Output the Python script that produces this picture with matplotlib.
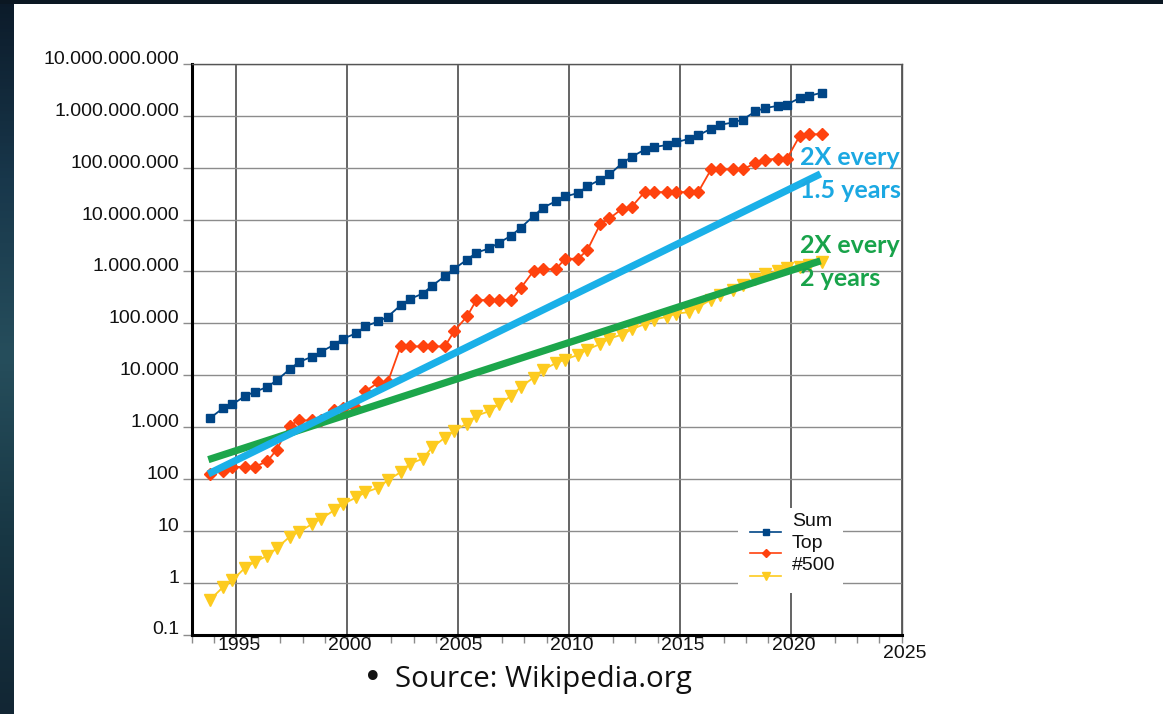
import numpy as np
import matplotlib
matplotlib.use("Agg")
import matplotlib.pyplot as plt
from matplotlib.patches import Rectangle
from matplotlib.lines import Line2D
from matplotlib.ticker import FixedLocator, NullLocator
from matplotlib.transforms import blended_transform_factory, offset_copy

# ---------------------------------------------------------------- data
# TOP500 lists, Nov 1993 .. Jun 2021 (two lists per year), performance in GFLOPS
list_dates = [(y, m) for y in range(1993, 2022) for m in (6, 11)][1:-1]

sum_perf = [1493, 2317, 2732, 3994, 4740, 5962, 7975, 12967, 17920, 22663,
            28350, 38442, 50644, 64306, 88050, 108500, 134200, 221600, 293300, 375000,
            528000, 812000, 1127000, 1690000, 2300000, 2790000, 3540000, 4920000, 6970000, 11700000,
            16950000, 22600000, 27950000, 32400000, 43700000, 58900000, 74200000, 123400000, 162000000, 223000000,
            250000000, 274000000, 309000000, 361000000, 420000000, 566000000, 672000000, 749000000, 845000000, 1220000000,
            1410000000, 1560000000, 1650000000, 2220000000, 2430000000, 2800000000]

top_perf = [124.5, 143.4, 170.4, 170.4, 170.4, 220.4, 368.2, 1068, 1338, 1338,
            1338, 2121, 2379, 2379, 4938, 7226, 7226, 35860, 35860, 35860,
            35860, 35860, 70720, 136800, 280600, 280600, 280600, 280600, 478200, 1026000,
            1105000, 1105000, 1759000, 1759000, 2566000, 8162000, 10510000, 16324750, 17590000, 33862700,
            33862700, 33862700, 33862700, 33862700, 33862700, 93014600, 93014600, 93014600, 93014600, 122300000,
            143500000, 148600000, 148600000, 415530000, 442010000, 442010000]

last_perf = [0.472, 0.822, 1.114, 1.955, 2.489, 3.306, 4.62, 7.67, 9.51, 13.39,
             17.12, 24.73, 33.08, 43.82, 55.1, 67.78, 94.3, 134.3, 195.8, 245.1,
             403.4, 624, 850.6, 1166, 1646, 2026, 2737, 4005, 5929, 9000,
             12640, 17090, 20050, 24670, 31120, 39990, 50940, 60820, 76500, 96620,
             117800, 133700, 153400, 164700, 206300, 286100, 349300, 432200, 548300, 715600,
             874800, 1022000, 1142000, 1228000, 1317000, 1511000]

series_labels = ["Sum", "Top", "#500"]

ytick_values = [0.1, 1, 10, 100, 1e3, 1e4, 1e5, 1e6, 1e7, 1e8, 1e9, 1e10]
ytick_labels = ["0.1", "1", "10", "100", "1.000", "10.000", "100.000", "1.000.000",
                "10.000.000", "100.000.000", "1.000.000.000", "10.000.000.000"]
xtick_years = [1995, 2000, 2005, 2010, 2015, 2020, 2025]

# hand-drawn growth trend lines: start and end of each segment
trend_years = [1993.75, 2021.35]
fast_trend = [125, 7.6e7]     # "2X every 1.5 years"
slow_trend = [235, 1.6e6]     # "2X every 2 years"

# ---------------------------------------------------------------- figure
W, H = 1163, 714
fig = plt.figure(figsize=(W / 100, H / 100), dpi=100)
fig.patch.set_facecolor("white")

# dark slide background peeking out at the top and left edges
edge = fig.add_axes([0, 0, 14 / W, 1])
stops = np.array([[12, 27, 42], [24, 55, 75], [38, 78, 92], [24, 55, 68], [18, 38, 52]]) / 255
pos = np.linspace(0, 1, len(stops))
yy = np.linspace(0, 1, 200)
grad = np.stack([np.interp(yy, pos, stops[:, c]) for c in range(3)], axis=-1)[:, None, :]
edge.imshow(grad, aspect="auto", extent=[0, 1, 1, 0])
edge.axis("off")
fig.patches.append(Rectangle((0, 1 - 3.5 / H), 1, 3.5 / H, transform=fig.transFigure,
                             facecolor="#0b1722", edgecolor="none", zorder=5))

L, R, T, B = 191.7, 901.5, 64.0, 634.5
ax = fig.add_axes([L / W, 1 - B / H, (R - L) / W, (B - T) / H])
ax.set_facecolor("white")
ax.set_yscale("log")
ax.set_xlim(1993, 2025)
ax.set_ylim(0.1, 1e10)

ax.yaxis.set_major_locator(FixedLocator(ytick_values))
ax.yaxis.set_minor_locator(NullLocator())
ax.set_yticklabels(ytick_labels, va="baseline", family="Liberation Sans", fontsize=14)
ax.xaxis.set_major_locator(FixedLocator(xtick_years))
ax.xaxis.set_minor_locator(FixedLocator(list(range(1993, 2026))))
ax.set_xticklabels([])

ax.tick_params(axis="y", which="major", direction="out", length=6.5, width=1.0,
               color="#8c8c8c", pad=2.5, labelcolor="#111111")
ax.tick_params(axis="x", which="both", direction="out", length=6, width=1.0, color="#8c8c8c")

ax.grid(axis="y", which="major", color="#8c8c8c", lw=1.0)
ax.grid(axis="x", which="major", color="#3a3a3a", lw=1.1)
ax.set_axisbelow(True)

for side in ("left", "bottom"):
    ax.spines[side].set_linewidth(2.2)
    ax.spines[side].set_color("black")
for side in ("top", "right"):
    ax.spines[side].set_linewidth(1.0)
    ax.spines[side].set_color("#555555")

# year labels under the axis (the last one sits a little lower)
xlab_tr = blended_transform_factory(ax.transData, ax.transAxes)
for yr in xtick_years:
    dy = -23.5 if yr == 2025 else -15.5
    ax.text(yr, 0, str(yr), transform=offset_copy(xlab_tr, fig=fig, x=3, y=dy, units="dots"),
            ha="center", va="baseline", family="Liberation Sans", fontsize=14, color="#111111",
            clip_on=False)

# ---------------------------------------------------------------- series
x = np.array([y + (m - 1) / 12 for y, m in list_dates])
styles = [("#004586", "s", 5.8), ("#ff420e", "D", 6.5), ("#fdcb1f", "v", 8.0)]
for vals, (col, mk, ms) in zip([sum_perf, top_perf, last_perf], styles):
    ax.plot(x, vals, color=col, marker=mk, ms=ms, lw=1.3, mec=col, mfc=col, zorder=3, clip_on=False)

# trend lines
ax.plot(trend_years, slow_trend, color="#1ca64b", lw=5.2, solid_capstyle="butt", zorder=4)
ax.plot(trend_years, fast_trend, color="#1ab0e8", lw=5.2, solid_capstyle="butt", zorder=5)

# ---------------------------------------------------------------- legend
def ax_frac(px, py):
    return (px - L) / (R - L), (B - py) / (B - T)

x0, y0 = ax_frac(738, 593)
x1, y1 = ax_frac(843, 508)
ax.add_patch(Rectangle((x0, y0), x1 - x0, y1 - y0, transform=ax.transAxes,
                       facecolor="white", edgecolor="none", zorder=6))
handle_y = [531.7, 553.3, 576.0]
label_y = [525.7, 547.7, 570.0]
for (col, mk, ms), hy, ly, lab in zip(styles, handle_y, label_y, series_labels):
    hx0, hyy = ax_frac(750, hy)
    hx1, _ = ax_frac(781, hy)
    ax.add_line(Line2D([hx0, (hx0 + hx1) / 2, hx1], [hyy] * 3, transform=ax.transAxes,
                       color=col, lw=1.2, marker=mk, ms=ms * 0.7, markevery=[1], zorder=7))
    lx, lyy = ax_frac(792, ly)
    ax.text(lx, lyy, lab, transform=ax.transAxes, ha="left", va="baseline",
            family="Liberation Sans", fontsize=14, color="#111111", zorder=7)

# ---------------------------------------------------------------- annotations
def fig_xy(px, py):
    return px / W, 1 - py / H

notes = [("2X every", 800, 165, "#1ba8e2"), ("1.5 years", 800, 198, "#1ba8e2"),
         ("2X every", 800, 253, "#18a34a"), ("2 years", 800, 286, "#18a34a")]
for txt, px, py, col in notes:
    fx, fy = fig_xy(px, py)
    fig.text(fx, fy, txt, ha="left", va="baseline", family="Lato", weight="bold",
             fontsize=18, color=col, zorder=10)

bx, by = fig_xy(373, 679)
fig.text(bx, by, "\u2022", ha="center", va="center", family="DejaVu Sans", fontsize=24, color="#111111")
sx, sy = fig_xy(395, 687)
fig.text(sx, sy, "Source: Wikipedia.org", ha="left", va="baseline", family="Open Sans",
         fontsize=21.2, color="#111111")

fig.savefig("out.png", dpi=100, facecolor=fig.get_facecolor())
